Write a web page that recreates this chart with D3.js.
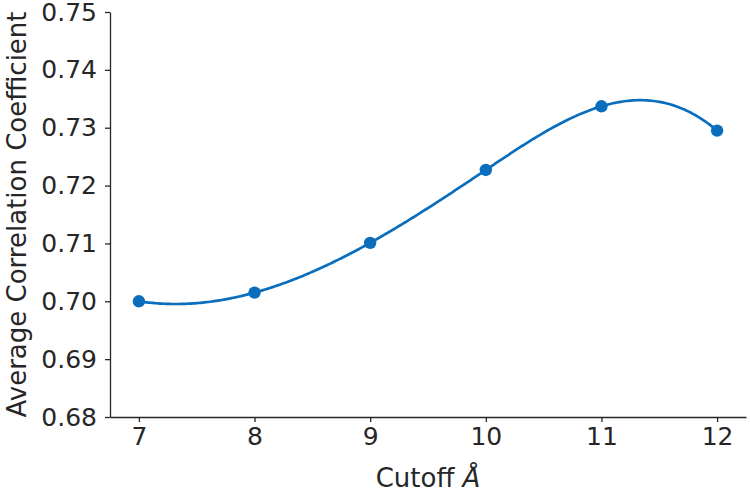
<!DOCTYPE html>
<html><head><meta charset="utf-8">
<script src="https://cdn.jsdelivr.net/npm/d3@7"></script>
<style>body{margin:0;background:#fff;} text{font-family:"DejaVu Sans",sans-serif;fill:#262626;}</style>
</head><body>
<svg id="c" width="750" height="492"></svg>
<script>
const cutoffs = [7, 8, 9, 10, 11, 12];
const correlations = [0.7000, 0.7015, 0.7101, 0.7227, 0.7337, 0.7295];
const yTicks = [0.68, 0.69, 0.70, 0.71, 0.72, 0.73, 0.74, 0.75];
const xTicks = [7, 8, 9, 10, 11, 12];
const color = "#0a6ebd";

const svg = d3.select("#c");
const mLeft = 110, mRight = 746, mTop = 12, mBottom = 417;
const x = d3.scaleLinear().domain([6.75, 12.25]).range([mLeft, mRight]);
const y = d3.scaleLinear().domain([0.68, 0.75]).range([mBottom, mTop]);

// not-a-knot cubic spline (rendering of smooth curve through data points)
function notAKnot(xs, ys) {
  const n = xs.length;
  const h = [];
  for (let i = 0; i < n - 1; i++) h.push(xs[i+1] - xs[i]);
  const A = Array.from({length: n}, () => new Array(n).fill(0));
  const b = new Array(n).fill(0);
  A[0][0] = h[1]; A[0][1] = -(h[0] + h[1]); A[0][2] = h[0];
  for (let i = 1; i < n - 1; i++) {
    A[i][i-1] = h[i-1]; A[i][i] = 2 * (h[i-1] + h[i]); A[i][i+1] = h[i];
    b[i] = 6 * ((ys[i+1] - ys[i]) / h[i] - (ys[i] - ys[i-1]) / h[i-1]);
  }
  A[n-1][n-3] = h[n-2]; A[n-1][n-2] = -(h[n-3] + h[n-2]); A[n-1][n-1] = h[n-3];
  for (let c = 0; c < n; c++) {
    let p = c;
    for (let r = c + 1; r < n; r++) if (Math.abs(A[r][c]) > Math.abs(A[p][c])) p = r;
    [A[c], A[p]] = [A[p], A[c]]; [b[c], b[p]] = [b[p], b[c]];
    for (let r = c + 1; r < n; r++) {
      const f = A[r][c] / A[c][c];
      for (let k = c; k < n; k++) A[r][k] -= f * A[c][k];
      b[r] -= f * b[c];
    }
  }
  const M = new Array(n).fill(0);
  for (let r = n - 1; r >= 0; r--) {
    let s = b[r];
    for (let k = r + 1; k < n; k++) s -= A[r][k] * M[k];
    M[r] = s / A[r][r];
  }
  return function(t) {
    let i = Math.min(n - 2, Math.max(0, d3.bisectRight(xs, t) - 1));
    const a = xs[i+1] - t, bb = t - xs[i], hi = h[i];
    return M[i] * a*a*a / (6*hi) + M[i+1] * bb*bb*bb / (6*hi)
      + (ys[i] / hi - M[i] * hi / 6) * a + (ys[i+1] / hi - M[i+1] * hi / 6) * bb;
  };
}
const f = notAKnot(cutoffs, correlations);
const samples = d3.range(0, 301).map(i => {
  const t = cutoffs[0] + (cutoffs[cutoffs.length-1] - cutoffs[0]) * i / 300;
  return [t, f(t)];
});

svg.append("path")
  .attr("d", d3.line().x(d => x(d[0])).y(d => y(d[1]))(samples))
  .attr("fill", "none").attr("stroke", color).attr("stroke-width", 2.7);

svg.selectAll("circle.pt").data(cutoffs.map((c, i) => [c, correlations[i]]))
  .enter().append("circle").attr("class", "pt")
  .attr("cx", d => x(d[0])).attr("cy", d => y(d[1])).attr("r", 6.2).attr("fill", color);

const xAxis = svg.append("g").attr("transform", `translate(0,${mBottom})`)
  .call(d3.axisBottom(x).tickValues(xTicks).tickFormat(d3.format("d")).tickSize(5).tickPadding(5).tickSizeOuter(0));
const yAxis = svg.append("g").attr("transform", `translate(${mLeft},0)`)
  .call(d3.axisLeft(y).tickValues(yTicks).tickFormat(d3.format(".2f")).tickSize(5).tickPadding(8).tickSizeOuter(0));
[xAxis, yAxis].forEach(g => {
  g.selectAll("text").style("font-size", "25px").style("fill", "#262626").attr("font-family", "DejaVu Sans");
  g.select(".domain").attr("stroke", "#262626").attr("stroke-width", 1.3);
  g.selectAll(".tick line").attr("stroke", "#262626").attr("stroke-width", 1.3);
});

svg.append("text").attr("x", (mLeft + mRight) / 2).attr("y", 487)
  .attr("text-anchor", "middle").style("font-size", "26px")
  .html('Cutoff <tspan font-style="italic">Å</tspan>');
svg.append("text").attr("transform", `translate(26,${(mTop + mBottom) / 2}) rotate(-90)`)
  .attr("text-anchor", "middle").style("font-size", "26px")
  .text("Average Correlation Coefficient");
</script>
</body></html>
